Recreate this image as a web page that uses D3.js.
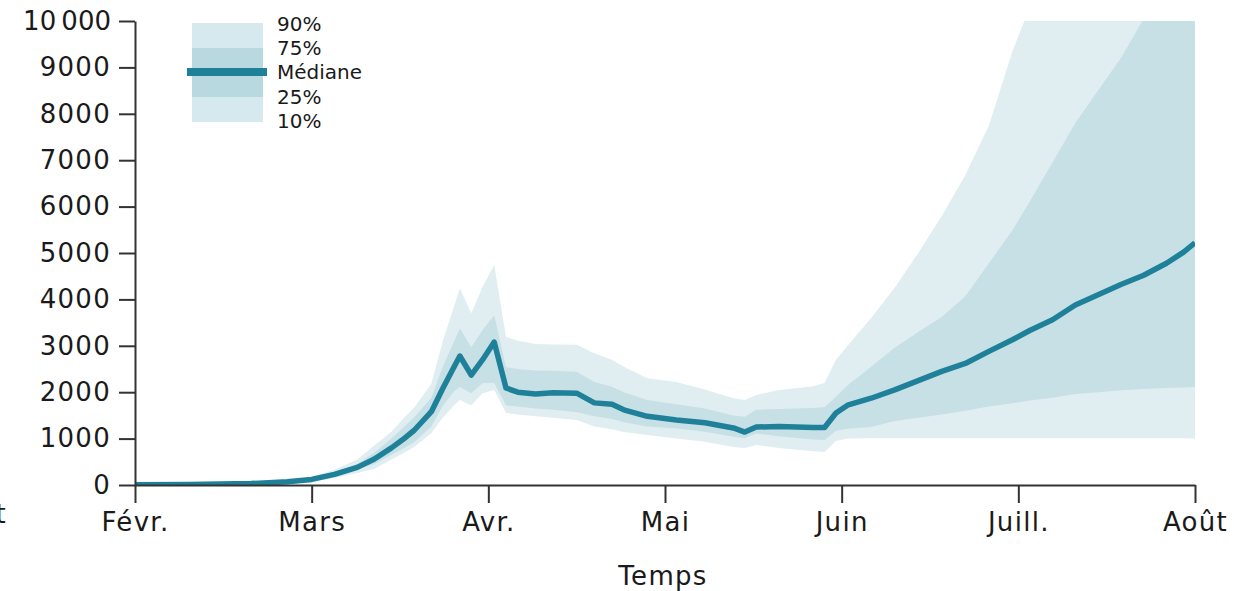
<!DOCTYPE html>
<html><head><meta charset="utf-8">
<script src="https://cdn.jsdelivr.net/npm/d3@7"></script>
<style>
html,body{margin:0;padding:0;background:#fff;overflow:hidden;}
svg{display:block;}
text{font-family:"DejaVu Sans",sans-serif;fill:#1a1a1a;}
</style></head>
<body>
<svg id="chart" width="1234" height="591"></svg>
<script>
const dates = ["2020-02-01","2020-02-10","2020-02-20","2020-02-26","2020-03-01","2020-03-05","2020-03-09","2020-03-12","2020-03-15","2020-03-17","2020-03-19","2020-03-22","2020-03-24","2020-03-26","2020-03-27","2020-03-29","2020-03-31","2020-04-02","2020-04-04","2020-04-06","2020-04-09","2020-04-12","2020-04-16","2020-04-19","2020-04-22","2020-04-24","2020-04-28","2020-05-03","2020-05-08","2020-05-13","2020-05-15","2020-05-17","2020-05-21","2020-05-27","2020-05-29","2020-05-31","2020-06-02","2020-06-06","2020-06-10","2020-06-14","2020-06-18","2020-06-22","2020-06-26","2020-06-30","2020-07-03","2020-07-07","2020-07-11","2020-07-15","2020-07-19","2020-07-23","2020-07-27","2020-07-30","2020-08-01"];
const median = [5,10,30,70,120,230,380,560,800,980,1180,1580,2080,2550,2780,2370,2700,3080,2090,2000,1960,1990,1980,1770,1740,1620,1480,1400,1340,1230,1140,1250,1260,1240,1240,1550,1720,1870,2050,2250,2450,2620,2880,3130,3330,3560,3880,4100,4320,4520,4780,5020,5220];
const p10 = [0,5,15,40,70,150,260,350,550,680,820,1120,1450,1720,1830,1720,1980,2050,1550,1520,1480,1450,1400,1260,1200,1140,1080,1000,930,820,800,860,800,730,710,950,1000,1010,1010,1010,1010,1010,1010,1010,1010,1010,1010,1010,1010,1010,1010,1010,1000];
const p25 = [2,8,25,60,100,200,330,450,650,780,920,1260,1700,2020,2110,1980,2200,2200,1720,1690,1650,1620,1570,1480,1420,1350,1260,1220,1150,1040,1010,1110,1050,980,970,1170,1210,1250,1380,1450,1520,1600,1690,1760,1820,1880,1960,2000,2040,2070,2090,2100,2110];
const p75 = [8,12,35,80,140,270,450,700,1000,1230,1460,1880,2550,3100,3380,2970,3340,3660,2540,2500,2470,2460,2440,2220,2120,2000,1830,1740,1650,1500,1470,1620,1640,1660,1680,1900,2150,2550,2960,3300,3620,4070,4780,5490,6110,6950,7800,8500,9200,10050,10800,11400,11800];
const p90 = [12,16,45,100,180,330,550,850,1150,1420,1670,2180,3100,3850,4240,3700,4270,4740,3190,3110,3040,3030,3020,2840,2700,2550,2300,2220,2060,1870,1830,1940,2050,2130,2200,2700,3000,3600,4250,5000,5800,6680,7750,9350,10300,11300,12300,13300,14300,15300,16300,17000,17500];
const monthLabels = ["Févr.","Mars","Avr.","Mai","Juin","Juill.","Août"];
const yTicks = [0,1000,2000,3000,4000,5000,6000,7000,8000,9000,10000];
const legendLabels = ["90%","75%","Médiane","25%","10%"];
const xTitle = "Temps";

const colLight = "#e0eef2", colMid = "#c6e0e6", colLine = "#1f8199";
const svg = d3.select("#chart");
const x = d3.scaleLinear().domain([0, 6]).range([135, 1195]);
const y = d3.scaleLinear().domain([0, 10000]).range([485, 21]);

// month-position: equal spacing per month
function monthPos(s) {
  const [yy, mm, dd] = s.split("-").map(Number);
  const dim = new Date(yy, mm, 0).getDate();
  return (mm - 2) + (dd - 1) / dim;
}
const data = dates.map((d, i) => ({t: monthPos(d), m: median[i], a: p10[i], b: p25[i], c: p75[i], e: p90[i]}));

svg.append("clipPath").attr("id", "clip").append("rect")
  .attr("x", 135).attr("y", 21).attr("width", 1060).attr("height", 464);
const g = svg.append("g").attr("clip-path", "url(#clip)");

g.append("path").datum(data).attr("fill", colLight)
  .attr("d", d3.area().x(d => x(d.t)).y0(d => y(d.a)).y1(d => y(d.e)));
g.append("path").datum(data).attr("fill", colMid)
  .attr("d", d3.area().x(d => x(d.t)).y0(d => y(d.b)).y1(d => y(d.c)));
g.append("path").datum(data).attr("fill", "none").attr("stroke", colLine)
  .attr("stroke-width", 5.5).attr("stroke-linejoin", "round")
  .attr("d", d3.line().x(d => x(d.t)).y(d => y(d.m)));

// axes
const yAxis = d3.axisLeft(y).tickValues(yTicks).tickSize(16).tickSizeOuter(0).tickPadding(8)
  .tickFormat(d => d >= 10000 ? "10\u202f000" : String(d));
const ya = svg.append("g").attr("transform", "translate(135,0)").call(yAxis);
const xAxis = d3.axisBottom(x).tickValues(d3.range(0, 7)).tickSize(18).tickSizeOuter(0).tickPadding(10)
  .tickFormat(i => monthLabels[i]);
const xa = svg.append("g").attr("transform", "translate(0,485)").call(xAxis);
[ya, xa].forEach(a => {
  a.selectAll("path,line").attr("stroke", "#333").attr("stroke-width", 2);
  a.selectAll("text").style("font-size", "26px").style("letter-spacing", "1.3px").attr("fill", "#1a1a1a")
    .style("font-family", '"DejaVu Sans",sans-serif');
});

svg.append("text").attr("x", 663).attr("y", 585).attr("text-anchor", "middle")
  .style("font-size", "26px").style("letter-spacing", "1.3px").text(xTitle);
// cut-off label from a neighbouring panel
svg.append("text").attr("x", 7).attr("y", 523).attr("text-anchor", "end")
  .style("font-size", "26px").style("letter-spacing", "1.3px").text("Août");

// legend
const lg = svg.append("g");
lg.append("rect").attr("x", 192).attr("y", 23).attr("width", 71).attr("height", 99).attr("fill", "#d5e9ee");
lg.append("rect").attr("x", 192).attr("y", 48).attr("width", 71).attr("height", 49).attr("fill", "#b9d9e0");
lg.append("line").attr("x1", 187).attr("x2", 267).attr("y1", 72).attr("y2", 72)
  .attr("stroke", colLine).attr("stroke-width", 8);
const ly = [24, 48, 72, 97, 121];
legendLabels.forEach((t, i) => {
  lg.append("text").attr("x", 277).attr("y", ly[i]).attr("dy", "0.35em")
    .style("font-size", "20px").text(t);
});
</script>
</body></html>
